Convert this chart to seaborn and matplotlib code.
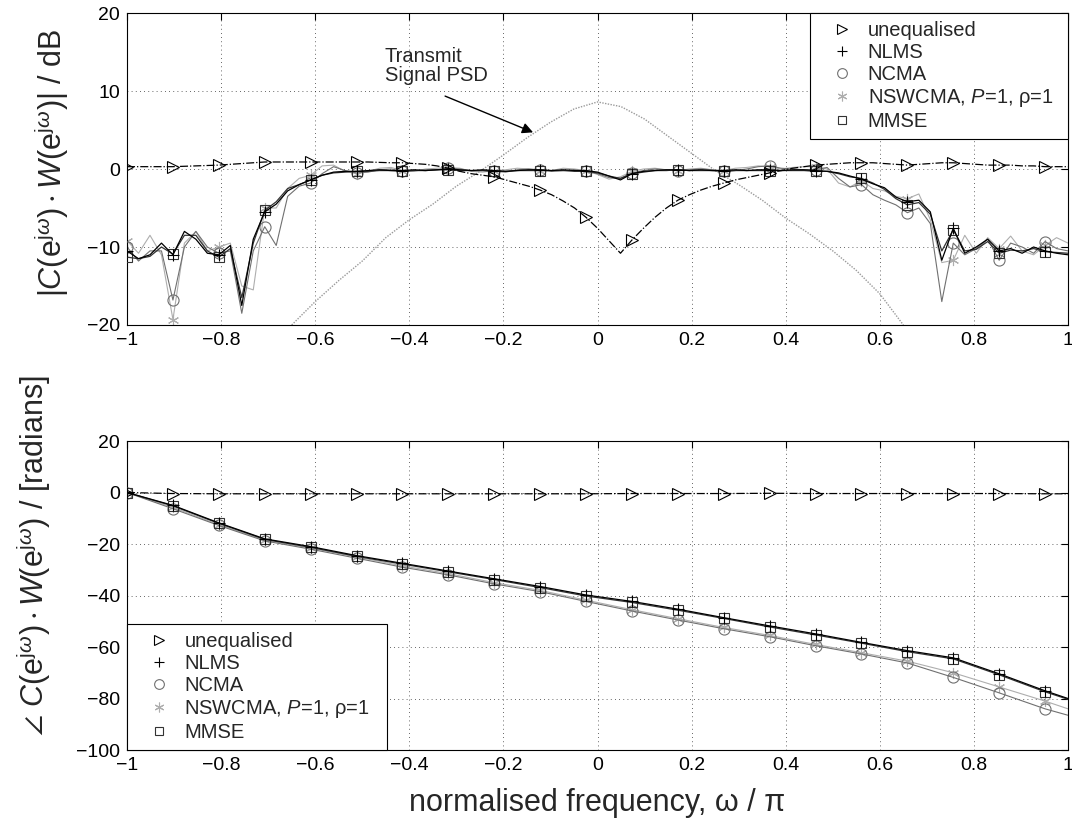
import numpy as np
import matplotlib
matplotlib.use('Agg')
import matplotlib.pyplot as plt
from matplotlib.lines import Line2D
import seaborn as sns

# ── Data ─────────────────────────────────────────────────────────────────────
# normalised frequency grid (omega / pi); markers sit on every 4th sample
freq = np.linspace(-1, 1, 83)
mark_idx = list(range(0, 81, 4))

# |C(e^jw) W(e^jw)| in dB
mag_unequalised = [
    0.3, 0.3, 0.3, 0.3, 0.3, 0.35, 0.4, 0.45, 0.5, 0.6,
    0.7, 0.8, 0.9, 0.9, 0.9, 0.9, 0.9, 0.9, 0.9, 0.9,
    0.9, 0.9, 0.85, 0.8, 0.8, 0.7, 0.6, 0.4, 0.1, -0.3,
    -0.6, -0.8, -1.0, -1.4, -1.8, -2.2, -2.7, -3.3, -4.1, -5.0,
    -6.2, -7.6, -9.2, -10.8, -9.1, -7.6, -6.2, -5.0, -4.0, -3.3,
    -2.7, -2.2, -1.8, -1.4, -1.1, -0.8, -0.5, -0.2, 0.1, 0.3,
    0.5, 0.6, 0.7, 0.8, 0.8, 0.8, 0.7, 0.6, 0.5, 0.6,
    0.7, 0.8, 0.8, 0.7, 0.6, 0.5, 0.5, 0.5, 0.4, 0.4,
    0.3, 0.3, 0.3]
mag_nlms = [
    -10.5, -11.5, -11.0, -9.5, -11.0, -8.0, -9.0, -10.8, -11.0, -9.8,
    -17.5, -9.0, -5.5, -4.5, -2.8, -2.0, -1.4, -0.8, -0.4,
    -0.3, -0.3, -0.2, -0.1, -0.2, -0.2, -0.1, -0.2, -0.1, 0.0,
    -0.1, -0.2, -0.1, -0.2, -0.3, -0.2, -0.1, -0.1, -0.2, -0.1,
    -0.2, -0.2, -0.4, -0.9, -1.4, -0.6, -0.3, -0.2, -0.1, -0.1,
    -0.2, -0.1, -0.2, -0.2, -0.1, -0.2, -0.1, -0.1, -0.2, -0.1, -0.1,
    -0.2, -0.3, -0.5, -0.9, -1.3, -1.9, -2.4, -3.6, -4.2, -4.0,
    -5.5, -11.7, -7.6, -10.8, -10.0, -9.0, -10.5, -10.2, -10.8, -10.0,
    -10.5, -10.8, -11.0]
mag_ncma = [
    -10.0, -11.8, -10.5, -10.5, -16.8, -10.0, -8.0, -10.0, -10.8, -10.5,
    -18.5, -10.5, -7.4, -9.8, -3.5, -2.2, -1.8, -0.6, 0.3,
    -0.2, -0.5, -0.4, -0.1, 0.0, -0.3, -0.2, -0.1, -0.1, 0.1,
    0.0, -0.2, -0.2, -0.3, -0.4, -0.1, 0.0, -0.1, -0.3, -0.2,
    -0.1, -0.3, -0.6, -1.1, -1.2, -0.5, -0.2, 0.0, -0.1, -0.2,
    -0.1, 0.0, -0.1, -0.3, -0.2, 0.0, 0.3, 0.4, 0.1, 0.0, -0.1,
    -0.1, 0.2, -1.2, -2.3, -2.0, -3.3, -4.0, -4.6, -5.6, -5.0,
    -7.0, -17.0, -9.5, -11.0, -10.2, -9.0, -11.7, -9.5, -10.0, -10.8,
    -9.3, -10.2, -10.5]
mag_nswcma = [
    -9.2, -10.8, -8.5, -11.0, -19.3, -9.5, -8.0, -10.5, -10.0, -9.5,
    -15.0, -15.5, -5.0, -5.0, -2.5, -1.2, -0.8, 0.4, 0.5,
    -0.3, -0.6, -0.3, 0.1, 0.2, -0.2, -0.3, 0.0, 0.1, 0.2,
    0.1, -0.3, -0.4, -0.2, -0.1, 0.1, 0.0, -0.2, -0.2, 0.1,
    0.0, -0.2, -0.7, -1.3, -1.0, -0.3, 0.0, 0.1, -0.1, -0.2,
    0.0, 0.1, -0.1, -0.2, 0.1, 0.2, 0.4, 0.3, 0.0, 0.2, 0.3,
    0.3, 0.0, -1.8, -2.3, -1.5, -2.5, -2.8, -3.5, -3.8, -3.2,
    -6.5, -12.0, -11.7, -8.5, -10.8, -8.8, -10.2, -8.6, -10.5, -11.0,
    -9.8, -8.8, -9.5]
mag_mmse = [
    -11.3, -11.5, -11.2, -10.0, -10.9, -8.5, -8.5, -10.5, -11.3, -10.2,
    -16.5, -9.5, -5.3, -4.2, -2.5, -2.0, -1.4, -0.8, -0.5,
    -0.4, -0.3, -0.3, -0.2, -0.2, -0.3, -0.2, -0.2, -0.1, -0.1,
    -0.2, -0.2, -0.2, -0.3, -0.3, -0.2, -0.2, -0.2, -0.2, -0.2,
    -0.3, -0.3, -0.5, -0.9, -1.2, -0.6, -0.4, -0.2, -0.2, -0.1,
    -0.2, -0.2, -0.2, -0.3, -0.2, -0.2, -0.2, -0.2, -0.2, -0.2, -0.2,
    -0.3, -0.3, -0.6, -1.0, -1.2, -1.8, -2.6, -3.8, -4.6, -4.3,
    -5.8, -10.5, -7.8, -10.5, -10.3, -9.3, -10.8, -10.4, -10.5, -10.2,
    -10.6, -10.7, -10.8]

# transmit signal power spectral density, dB
psd_freq = [-0.65, -0.60, -0.55, -0.50, -0.45, -0.40, -0.35, -0.30, -0.25,
            -0.20, -0.15, -0.10, -0.05, 0.00, 0.05, 0.10, 0.15, 0.20, 0.25,
            0.30, 0.35, 0.40, 0.45, 0.50, 0.55, 0.60, 0.65]
psd_db = [-20.0, -17.0, -14.3, -11.8, -8.8, -6.5, -4.5, -2.2, -0.3,
          1.8, 4.0, 6.0, 7.7, 8.6, 8.0, 6.4, 4.2, 2.0, -0.2,
          -2.0, -4.0, -6.3, -8.3, -10.5, -13.0, -16.0, -20.0]

# phase of C(e^jw) W(e^jw) in radians, at the marker frequencies plus the band edge
phase_freq = np.append(freq[mark_idx], 1.0)
ph_unequalised = [0.0, -0.4, -0.5, -0.5, -0.5, -0.5, -0.5, -0.5, -0.5, -0.5, -0.5,
                  -0.4, -0.4, -0.4, -0.3, -0.4, -0.4, -0.4, -0.4, -0.4, -0.5, -0.5]
ph_nlms = [0.0, -5.0, -11.8, -18.0, -21.0, -24.5, -27.5, -30.5, -33.5, -36.5, -39.8,
           -42.3, -45.3, -48.6, -51.8, -54.9, -58.2, -61.4, -64.2, -70.4, -77.0, -80.0]
ph_ncma = [0.0, -6.3, -12.8, -18.8, -22.0, -25.5, -29.0, -32.0, -35.5, -38.5, -42.3,
           -46.0, -49.5, -52.9, -56.0, -59.5, -62.7, -66.2, -71.8, -77.8, -84.0, -86.5]
ph_nswcma = [0.0, -5.8, -12.5, -18.5, -21.6, -25.0, -28.5, -31.5, -35.0, -38.0, -41.8,
             -45.5, -49.0, -52.4, -55.5, -59.0, -62.2, -65.5, -70.0, -75.5, -81.0, -84.0]
ph_mmse = [0.0, -5.2, -12.0, -18.2, -21.3, -24.8, -27.8, -30.8, -33.8, -36.9, -40.2,
           -42.7, -45.7, -48.9, -52.2, -55.3, -58.5, -61.8, -64.6, -70.8, -77.4, -80.3]

xtick_vals = [-1, -0.8, -0.6, -0.4, -0.2, 0, 0.2, 0.4, 0.6, 0.8, 1]
xtick_labels = ['\u22121', '\u22120.8', '\u22120.6', '\u22120.4', '\u22120.2', '0',
                '0.2', '0.4', '0.6', '0.8', '1']

# ── Style ────────────────────────────────────────────────────────────────────
sns.set_style('white')
plt.rcParams['font.family'] = ['Liberation Sans', 'DejaVu Sans']
plt.rcParams['mathtext.fontset'] = 'custom'
plt.rcParams['mathtext.rm'] = 'Liberation Sans'
plt.rcParams['mathtext.it'] = 'Liberation Sans:italic'
plt.rcParams['mathtext.bf'] = 'Liberation Sans:bold'
plt.rcParams['mathtext.fallback'] = 'stixsans'

C_UNEQ, C_NLMS, C_NCMA, C_NSW, C_MMSE = 'black', 'black', '#707070', '#aeaeae', '#333333'

series = [  # label, colour, marker, size, linestyle, width
    ('unequalised', C_UNEQ, '>', 8.5, '-.', 0.9),
    ('NLMS', C_NLMS, '+', 8, '-', 0.9),
    ('NCMA', C_NCMA, 'o', 8, '-', 0.8),
    ('NSWCMA, $P$=1, \u03c1=1', C_NSW, (6, 2, 0), 8, '-', 0.8),
    ('MMSE', C_MMSE, 's', 7, '-', 0.9),
]


def draw(ax, x, y, spec, every, z):
    _, col, mk, ms, ls, lw = spec
    sns.lineplot(x=x, y=y, ax=ax, color=col, linewidth=lw, linestyle=ls,
                 marker=mk, markersize=ms, mfc='none', mec=col, mew=0.8,
                 markevery=every, estimator=None, sort=False, zorder=z)


def style_axes(ax, ylim, yticks):
    ax.set_xlim(-1, 1)
    ax.set_ylim(*ylim)
    ax.set_xticks(xtick_vals)
    ax.set_xticklabels(xtick_labels)
    ax.set_yticks(yticks)
    ax.tick_params(direction='in', length=5, width=0.8, top=True, right=True,
                   labelsize=14, colors='black', pad=5)
    ax.grid(True, color='black', linestyle=(0, (1, 4)), linewidth=0.6, alpha=0.8)
    for sp in ax.spines.values():
        sp.set_color('black')
        sp.set_linewidth(0.8)


def add_legend(ax, anchor, loc):
    handles = [Line2D([], [], linestyle='none', marker=s[2], markersize=s[3] - 1,
                      mfc='none', mec=s[1], mew=0.8) for s in series]
    leg = ax.legend(handles, [s[0] for s in series], loc=loc, bbox_to_anchor=anchor,
                    mode='expand', borderaxespad=0, fontsize=14.5, labelspacing=0.15,
                    borderpad=0.4, handlelength=2.35, handletextpad=0.1,
                    fancybox=False, framealpha=1, edgecolor='black')
    leg.get_frame().set_linewidth(0.8)


fig = plt.figure(figsize=(10.72, 8.4), dpi=100)
ax1 = fig.add_axes([0.1185, 0.6131, 0.8778, 0.3714])
ax2 = fig.add_axes([0.1185, 0.1071, 0.8778, 0.3679])

# ── Magnitude ────────────────────────────────────────────────────────────────
sns.lineplot(x=psd_freq, y=psd_db, ax=ax1, color='#9a9a9a', linewidth=1.0,
             linestyle=(0, (1, 1)), estimator=None, sort=False, zorder=1)
mags = [mag_unequalised, mag_nlms, mag_ncma, mag_nswcma, mag_mmse]
for spec, y, z in zip(series, mags, [6, 5, 3, 2, 4]):
    draw(ax1, freq, y, spec, mark_idx, z)
style_axes(ax1, (-20, 20), [-20, -10, 0, 10, 20])
ax1.set_xlabel('')
ax1.set_ylabel(r'$|C(\mathrm{e}^{\mathrm{j}\omega})\cdot W(\mathrm{e}^{\mathrm{j}\omega})|$ / dB',
               fontsize=22, va='center')
ax1.yaxis.set_label_coords(-0.080, 0.52)
ax1.text(-0.452, 15.6, 'Transmit\nSignal PSD', fontsize=14.5, ha='left', va='top',
         linespacing=1.0)
ax1.annotate('', xy=(-0.137, 4.7), xytext=(-0.324, 9.35),
             arrowprops=dict(arrowstyle='-|>', color='black', lw=1.0, mutation_scale=16,
                             shrinkA=0, shrinkB=0))
add_legend(ax1, (0.726, 0.0, 0.274, 1.0), 'upper left')

# ── Phase ────────────────────────────────────────────────────────────────────
phases = [ph_unequalised, ph_nlms, ph_ncma, ph_nswcma, ph_mmse]
for spec, y, z in zip(series, phases, [6, 5, 3, 2, 4]):
    draw(ax2, phase_freq, y, spec, list(range(21)), z)
style_axes(ax2, (-100, 20), [-100, -80, -60, -40, -20, 0, 20])
ax2.set_xlabel('normalised frequency, \u03c9 / \u03c0', fontsize=22, labelpad=10)
ax2.set_ylabel(r'$\angle\ C(\mathrm{e}^{\mathrm{j}\omega})\cdot W(\mathrm{e}^{\mathrm{j}\omega})$ / [radians]',
               fontsize=22, va='center')
ax2.yaxis.set_label_coords(-0.099, 0.63)
add_legend(ax2, (0.0, 0.0, 0.276, 1.0), 'lower left')

fig.savefig('out.png', dpi=100)
